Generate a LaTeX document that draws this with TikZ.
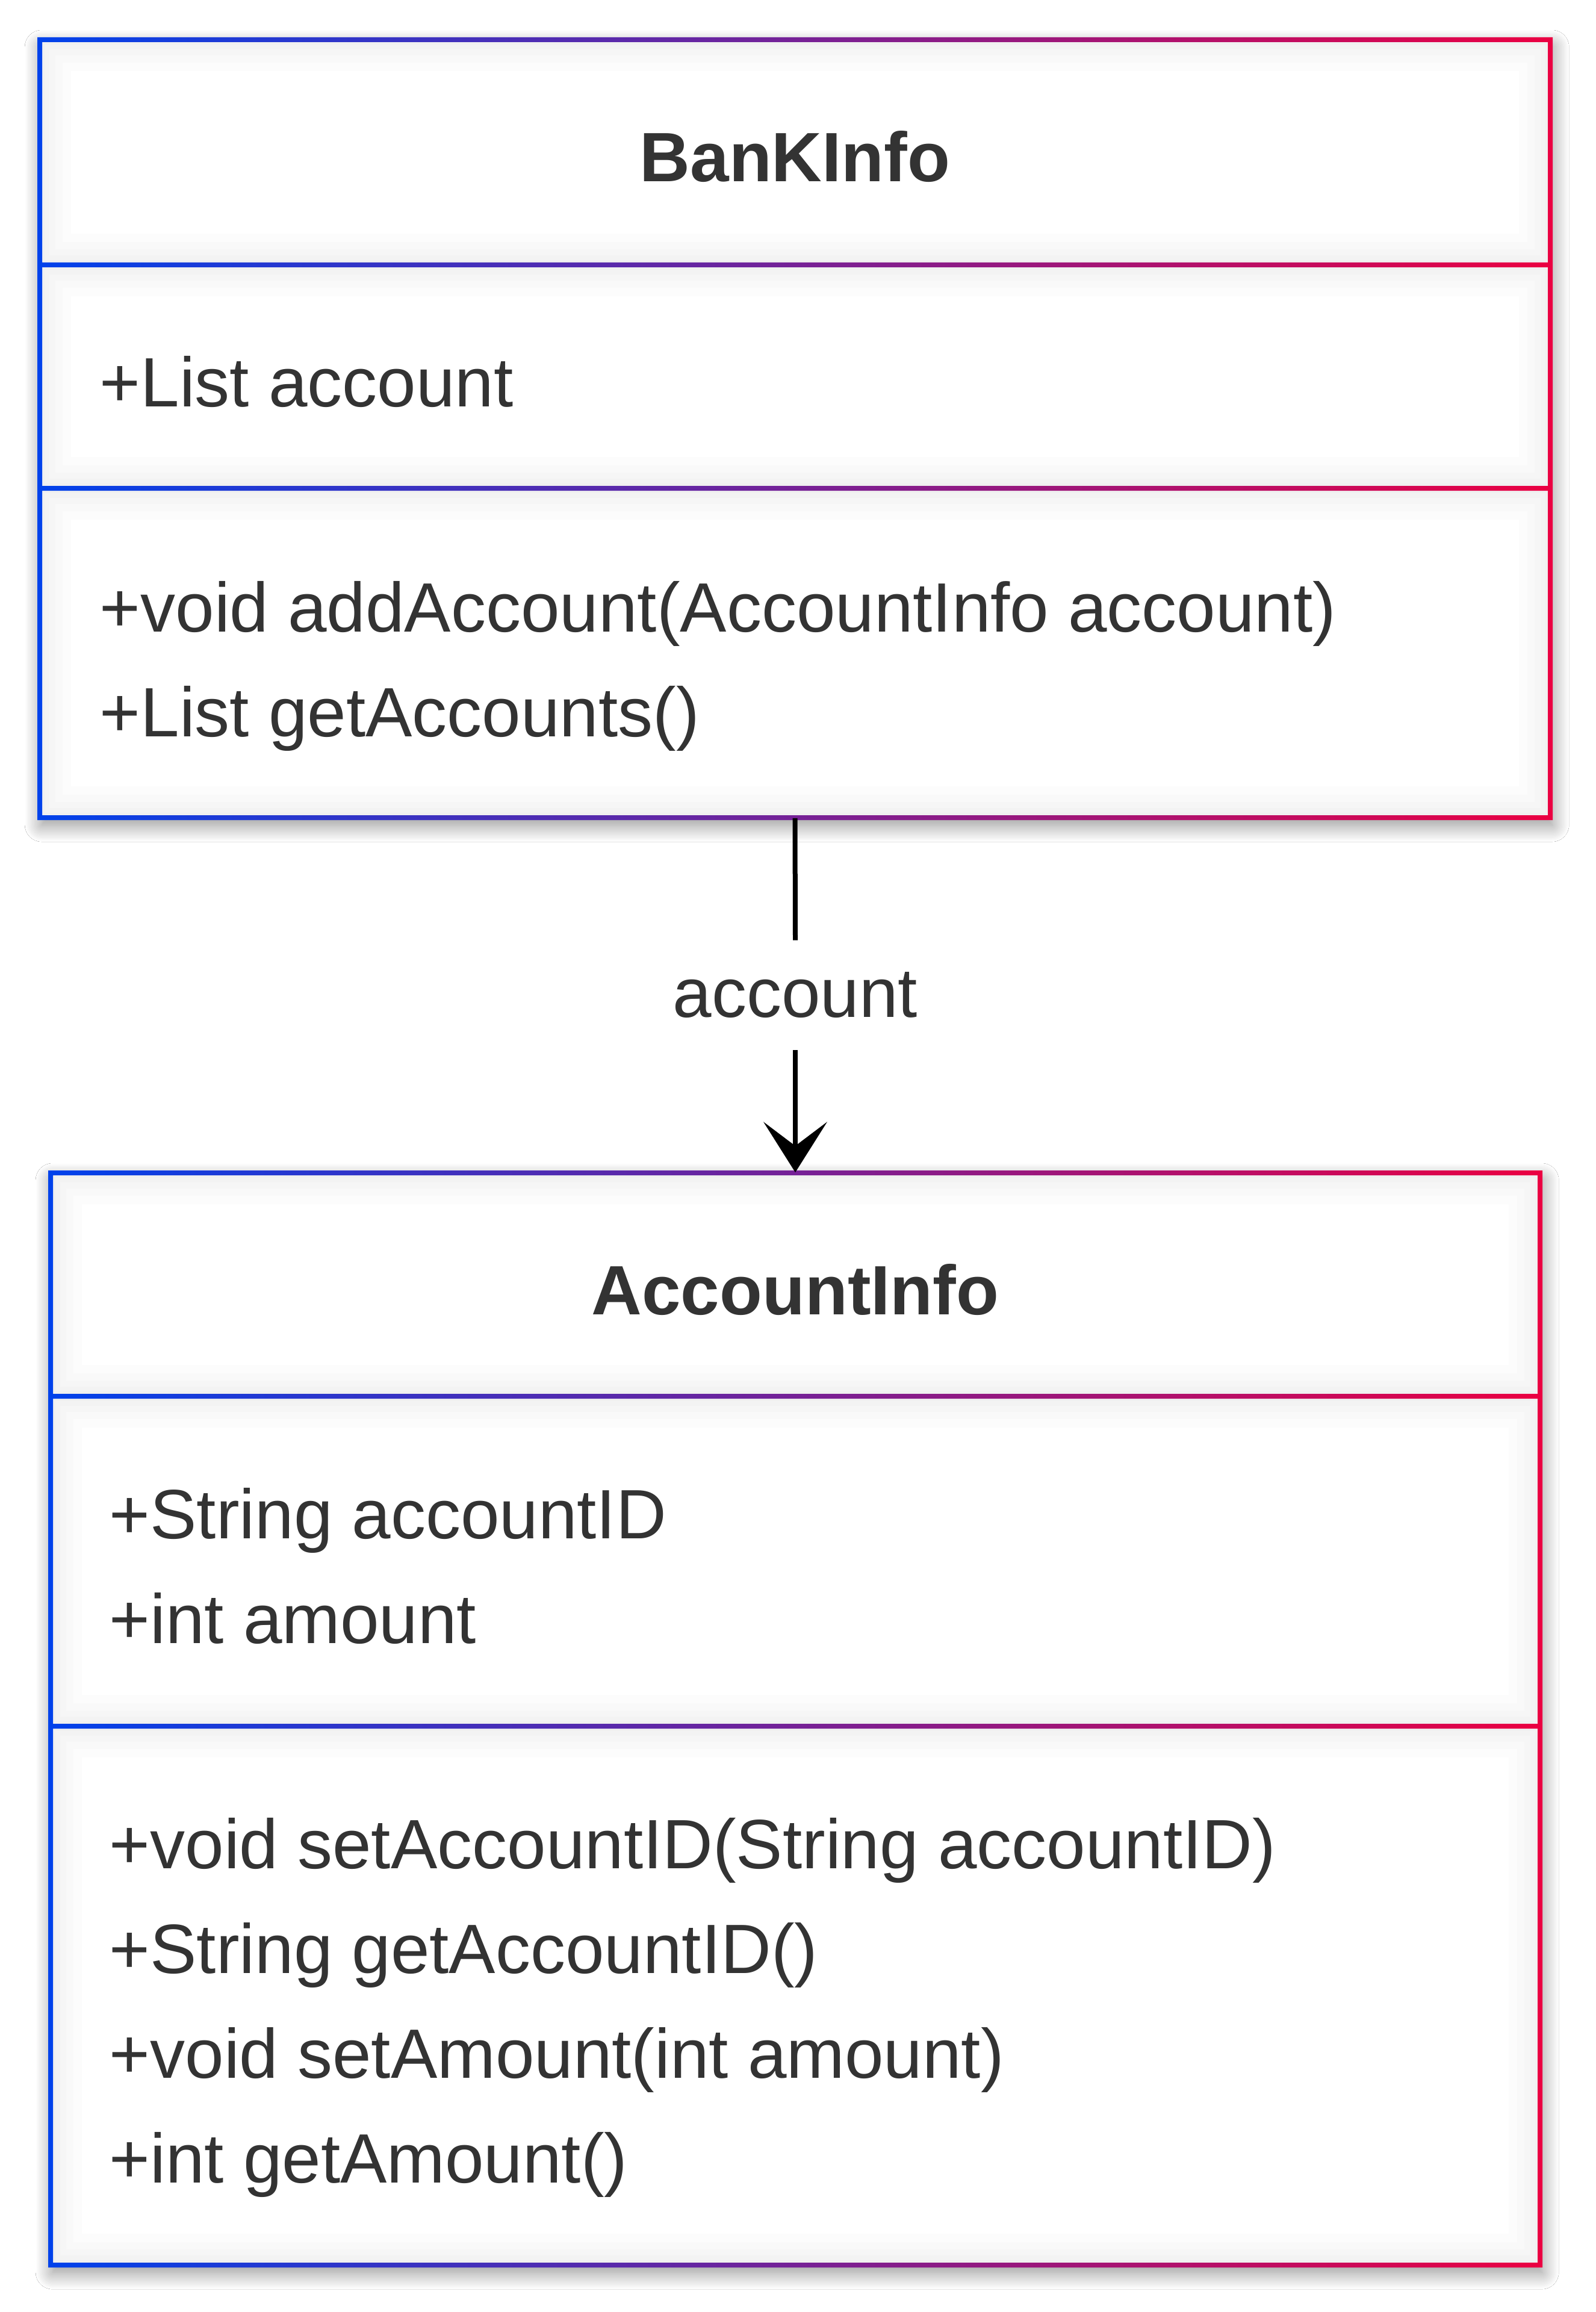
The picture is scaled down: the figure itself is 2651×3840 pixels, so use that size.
\documentclass[tikz,border=0pt]{standalone}
\usepackage{fontspec}
\setmainfont{Liberation Sans}
\usetikzlibrary{arrows.meta,shadows.blur,fit}
\definecolor{cblue}{RGB}{0,66,235}
\definecolor{cred}{RGB}{235,0,66}
\definecolor{txt}{RGB}{51,51,51}
\newcommand\drawclassbox[6]{% #1 left, #2 top, #3 right, #4 bottom, #5 divider 1, #6 divider 2
  \fill[white, blur shadow={shadow xshift=0.8pt, shadow yshift=-3pt, shadow blur radius=7pt, shadow blur steps=24, shadow opacity=45}] (#1,#2) rectangle (#3,#4);
  \foreach \ya/\yb in {#2/#5, #5/#6, #6/#4}{
    \begin{scope}
      \clip (#1,\ya) rectangle (#3,\yb);
      \foreach \w in {26pt,19pt,13pt,8pt,4pt}
        \draw[black, opacity=0.011, line width=\w] (#1,\ya) rectangle (#3,\yb);
    \end{scope}
  }
  \shade[left color=cblue, right color=cred, even odd rule]
    (#1-4,#2-4) rectangle (#3+4,#4+4)
    (#1+4,#2+4) rectangle (#3-4,#5-4)
    (#1+4,#5+4) rectangle (#3-4,#6-4)
    (#1+4,#6+4) rectangle (#3-4,#4-4);
}
\begin{document}
\begin{tikzpicture}[x=0.25pt,y=-0.25pt,
  member/.style={anchor=base west, inner sep=0pt, text=txt, font=\fontsize{29}{35}\selectfont},
  classtitle/.style={anchor=base, inner sep=0pt, text=txt, font=\fontsize{29}{35}\selectfont\bfseries},
  frame/.style={inner sep=0pt, draw=none},
  conn/.style={line width=2pt, black}]
\useasboundingbox (0,0) rectangle (2651,3840);
\fill[white] (0,0) rectangle (2651,3840);

% class boxes
\drawclassbox{66}{66}{2575}{1358}{440}{811}
\drawclassbox{84}{1948}{2558}{3762}{2319}{2867}
\node[frame, fit={(66,66) (2575,1358)}] (bank) {};
\node[frame, fit={(84,1948) (2558,3762)}] (acct) {};

% BankInfo texts
\node[classtitle] (bankT) at (1320.5,302) {BanKInfo};
\node[member] (bankA1) at (165,676) {+List account};
\node[member] (bankM1) at (165,1049) {+void addAccount(AccountInfo account)};
\node[member] (bankM2) at (165,1223) {+List getAccounts()};

% AccountInfo texts
\node[classtitle] (acctT) at (1321,2183) {AccountInfo};
\node[member] (acctA1) at (181,2555) {+String accountID};
\node[member] (acctA2) at (181,2729) {+int amount};
\node[member] (acctM1) at (181,3103) {+void setAccountID(String accountID)};
\node[member] (acctM2) at (181,3277) {+String getAccountID()};
\node[member] (acctM3) at (181,3451) {+void setAmount(int amount)};
\node[member] (acctM4) at (181,3625) {+int getAmount()};

% association
\node[inner sep=0pt, minimum height=45.25pt, text=txt, font=\fontsize{29}{35}\selectfont] (lab) at (1321,1653) {account};
\draw[conn] (bank.south) -- (lab.north);
\draw[conn, -{Stealth[length=21pt, width=26.5pt, inset=10pt, line width=0pt]}] (lab.south) -- (acct.north);
\end{tikzpicture}
\end{document}
